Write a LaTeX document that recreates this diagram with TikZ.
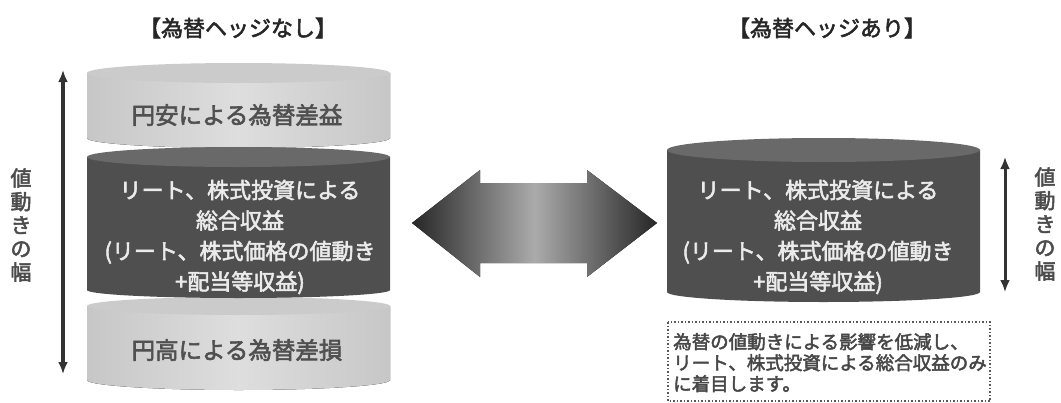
\documentclass[tikz,border=0pt]{standalone}
\usepackage{fontspec}
\setmainfont{Noto Sans CJK JP}
\newfontfamily\medfont{Noto Sans CJK JP}[FakeBold=2.5]
\usetikzlibrary{arrows.meta}
\definecolor{lightcyl}{HTML}{D8D8D8}
\definecolor{lightcyltop}{HTML}{CBCBCB}
\definecolor{darkcyl}{HTML}{4F4F4F}
\definecolor{darkcyltop}{HTML}{696969}
\definecolor{greytext}{HTML}{505050}
\tikzset{
  lighttxt/.style={text=greytext, font=\medfont\fontsize{23.5}{26}\selectfont, inner sep=0pt},
  darktxt/.style={text=white!92!black, font=\medfont\fontsize{22}{30.5}\selectfont, align=center, inner sep=0pt},
  titletxt/.style={text=black!85, font=\medfont\fontsize{22}{24}\selectfont, inner sep=0pt},
  verttxt/.style={text=black!70, font=\medfont\fontsize{21}{23.5}\selectfont, align=center, inner sep=0pt},
  boxtxt/.style={text=black!72, font=\medfont\fontsize{18.5}{21}\selectfont, align=left, inner sep=0pt},
  rangearrow/.style={draw=black!80, line width=#1, {Latex[length=12pt,width=10pt]}-{Latex[length=12pt,width=10pt]}},
}
\begin{document}
\begin{tikzpicture}[x=1pt,y=-1pt]
\useasboundingbox (0,0) rectangle (1061,402);
% ---------- left stacked cylinder ----------
% top light segment
\fill[left color=lightcyl!92!black, right color=lightcyl!92!black, middle color=lightcyl!85!white]
  (87,73) -- (87,138) arc[start angle=180,end angle=0,x radius=151.5,y radius=10] -- (390,73) -- cycle;
\fill[lightcyltop] (238.5,73) ellipse[x radius=151.5,y radius=10];
% bottom light segment
\fill[left color=lightcyl!92!black, right color=lightcyl!92!black, middle color=lightcyl!85!white]
  (87,306) -- (87,380) arc[start angle=180,end angle=0,x radius=151.5,y radius=10] -- (390,306) -- cycle;
\fill[lightcyltop] (238.5,306) ellipse[x radius=151.5,y radius=9];
% dark middle segment
\fill[darkcyl]
  (87,157) -- (87,290) arc[start angle=180,end angle=0,x radius=151.5,y radius=8] -- (390,157) -- cycle;
\fill[darkcyltop] (238.5,157) ellipse[x radius=151.5,y radius=10];
\node[lighttxt] (yasu) at (237,115) {円安による為替差益};
\node[darktxt] (ltext) at (240,237) {リート、株式投資による\\総合収益\\(リート、株式価格の値動き\\+配当等収益)};
\node[lighttxt] (taka) at (237,350) {円高による為替差損};
\node[titletxt] (ltitle) at (238,28) {【為替ヘッジなし】};
% left range arrow
\coordinate (la1) at (63,70);
\coordinate (la2) at (63,374);
\draw[rangearrow=4pt] (la1) -- (la2);
\node[verttxt] (lvert) at (21,225) {値\\動\\き\\の\\幅};
% ---------- middle double arrow ----------
\fill[left color=black!85, right color=black!85, middle color=black!33]
  (412,223) -- (480,170) -- (480,183) -- (587,183) -- (587,170) -- (657,223)
  -- (587,277) -- (587,263) -- (480,263) -- (480,277) -- cycle;
\node[inner sep=0pt] (mid) at (534,223) {};
% ---------- right cylinder ----------
\fill[darkcyl]
  (667,150) -- (667,292) arc[start angle=180,end angle=0,x radius=156.5,y radius=10] -- (980,150) -- cycle;
\fill[darkcyltop] (823.5,150) ellipse[x radius=156.5,y radius=12];
\node[darktxt] (rtext) at (818,237) {リート、株式投資による\\総合収益\\(リート、株式価格の値動き\\+配当等収益)};
\node[titletxt] (rtitle) at (827,28) {【為替ヘッジあり】};
\coordinate (ra1) at (1005,157);
\coordinate (ra2) at (1005,292);
\draw[rangearrow=3pt] (ra1) -- (ra2);
\node[verttxt] (rvert) at (1045,224) {値\\動\\き\\の\\幅};
% dotted note box
\draw[black!65, line width=1.5pt, dotted] (668,322) rectangle (990,401);
\node[boxtxt, anchor=north west] (note) at (673,333) {為替の値動きによる影響を低減し、\\リート、株式投資による総合収益のみ\\に着目します。};
\end{tikzpicture}
\end{document}
